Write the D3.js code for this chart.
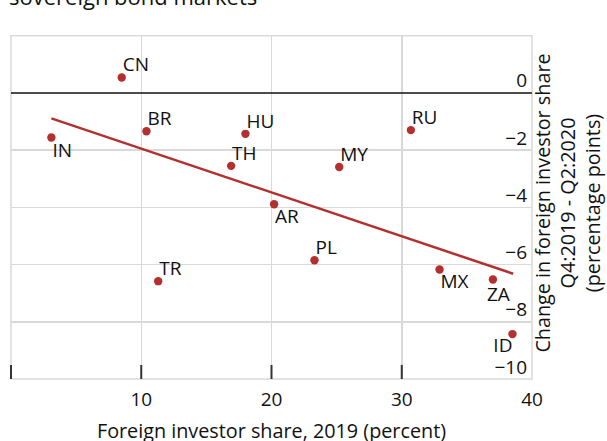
<!DOCTYPE html>
<meta charset="utf-8">
<style>
body { margin: 0; background: #fff; }
svg { display: block; font-family: "Open Sans", "Noto Sans", sans-serif; }
.grid line { stroke: #d9d9d9; stroke-width: 1.5; shape-rendering: crispEdges; }
.frame { fill: none; stroke: #d9d9d9; stroke-width: 1.5; }
.zero { stroke: #111; stroke-width: 1.5; }
.xtick { stroke: #333; stroke-width: 2; }
.tick-label { font-size: 19px; fill: #111; }
.point-label { font-size: 19px; fill: #111; }
.axis-title { font-size: 19.8px; fill: #111; }
.trend { fill: none; stroke: #b3302e; stroke-width: 2.5; }
.dot { fill: #b3302e; }
</style>
<body>
<script src="https://cdn.jsdelivr.net/npm/d3@7"></script>
<script>
// country codes, 2019 foreign share (%), change Q4:2019-Q2:2020 (pp)
var codes  = ["CN", "IN", "BR", "HU", "RU", "TH", "MY", "AR", "PL", "TR", "MX", "ZA", "ID"];
var share  = [8.5, 3.1, 10.4, 18.0, 30.7, 16.9, 25.2, 20.2, 23.3, 11.3, 32.9, 37.0, 38.5];
var change = [0.54, -1.56, -1.34, -1.43, -1.30, -2.55, -2.59, -3.89, -5.85, -6.58, -6.17, -6.52, -8.43];

// fitted line end points
var trendX = [3.1, 38.55];
var trendY = [-0.89, -6.32];

var xTicks = [10, 20, 30, 40];
var yTicks = [0, -2, -4, -6, -8, -10];

// labels that sit under their dot
var below = { IN: 1, AR: 1, MX: 1, ZA: 1, ID: 1 };

var width = 607, height = 441;

var x = d3.scaleLinear().domain([0, 40]).range([11, 532]);
var y = d3.scaleLinear().domain([-10, 2]).range([379, 35.7]);

var svg = d3.select("body").append("svg")
  .attr("width", width)
  .attr("height", height);

// title remnant cut off at the top
svg.append("text")
  .attr("x", 9)
  .attr("y", 4.5)
  .style("font-size", "22px")
  .style("fill", "#111")
  .text("sovereign bond markets");

var grid = svg.append("g").attr("class", "grid");

grid.selectAll(".vg")
  .data([10, 20, 30])
  .enter().append("line")
  .attr("x1", function(d) { return x(d); })
  .attr("x2", function(d) { return x(d); })
  .attr("y1", y(2))
  .attr("y2", y(-10));

grid.selectAll(".hg")
  .data([-2, -4, -6, -8])
  .enter().append("line")
  .attr("x1", x(0))
  .attr("x2", x(40))
  .attr("y1", function(d) { return y(d); })
  .attr("y2", function(d) { return y(d); });

svg.append("rect")
  .attr("class", "frame")
  .attr("x", x(0))
  .attr("y", y(2))
  .attr("width", x(40) - x(0))
  .attr("height", y(-10) - y(2));

svg.append("line")
  .attr("class", "zero")
  .attr("x1", x(0))
  .attr("x2", x(40))
  .attr("y1", y(0))
  .attr("y2", y(0));

// short ticks on the bottom edge
svg.selectAll(".xtick")
  .data([0, 10, 20, 30])
  .enter().append("line")
  .attr("class", "xtick")
  .attr("x1", function(d) { return x(d); })
  .attr("x2", function(d) { return x(d); })
  .attr("y1", y(-10))
  .attr("y2", y(-10) - 14);

svg.selectAll(".xlab")
  .data(xTicks)
  .enter().append("text")
  .attr("class", "tick-label")
  .attr("x", function(d) { return x(d); })
  .attr("y", 406)
  .attr("text-anchor", "middle")
  .text(function(d) { return d; });

svg.selectAll(".ylab")
  .data(yTicks)
  .enter().append("text")
  .attr("class", "tick-label")
  .attr("x", 527)
  .attr("y", function(d) { return y(d) - 5.5; })
  .attr("text-anchor", "end")
  .text(function(d) { return d < 0 ? "\u2212" + Math.abs(d) : d; });

// regression line
svg.append("path")
  .attr("class", "trend")
  .attr("d", d3.line()([[x(trendX[0]), y(trendY[0])], [x(trendX[1]), y(trendY[1])]]));

var pts = codes.map(function(c, i) { return { code: c, sx: share[i], cy: change[i] }; });

svg.selectAll(".dot")
  .data(pts)
  .enter().append("circle")
  .attr("class", "dot")
  .attr("r", 4.2)
  .attr("cx", function(d) { return x(d.sx); })
  .attr("cy", function(d) { return y(d.cy); });

svg.selectAll(".point-label")
  .data(pts)
  .enter().append("text")
  .attr("class", "point-label")
  .attr("x", function(d) {
    if (d.code === "ID") return x(d.sx);
    if (d.code === "ZA") return x(d.sx) - 6;
    return x(d.sx) + 1;
  })
  .attr("y", function(d) {
    if (d.code === "ZA") return y(d.cy) + 22;
    if (d.code === "ID") return y(d.cy) + 18;
    return below[d.code] ? y(d.cy) + 19 : y(d.cy) - 6;
  })
  .attr("text-anchor", function(d) { return d.code === "ID" ? "end" : "start"; })
  .text(function(d) { return d.code; });

svg.append("text")
  .attr("class", "axis-title")
  .attr("x", (x(0) + x(40)) / 2)
  .attr("y", 438)
  .attr("text-anchor", "middle")
  .text("Foreign investor share, 2019 (percent)");

var ytitle = ["Change in foreign investor share", "Q4:2019 - Q2:2020", "(percentage points)"];
svg.selectAll(".ytitle")
  .data(ytitle)
  .enter().append("text")
  .attr("class", "axis-title")
  .attr("text-anchor", "middle")
  .attr("transform", function(d, i) { return "translate(" + (550 + i * 25) + ",203) rotate(-90)"; })
  .text(function(d) { return d; });
</script>
